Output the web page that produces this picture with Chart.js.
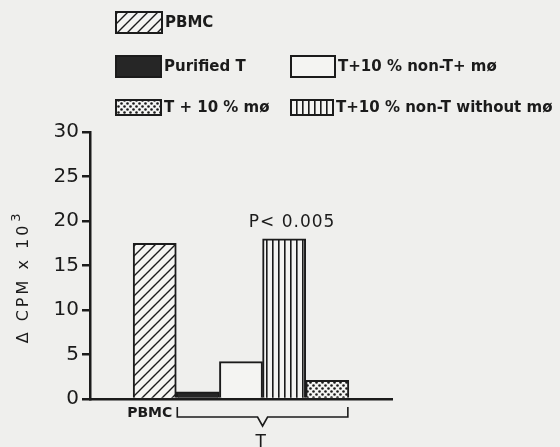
<!DOCTYPE html>
<html><head><meta charset="utf-8">
<script src="https://cdn.jsdelivr.net/npm/chart.js@4"></script>
<style>html,body{margin:0;padding:0;background:#efefed;}#wrap{width:560px;height:447px;position:relative;}</style>
</head><body><div id="wrap"><canvas id="c" width="560" height="447"></canvas></div>
<script>
const categories = ['', 'PBMC', 'Purified T', 'T+10 % non-T+ mø', 'T+10 % non-T without mø', 'T + 10 % mø', ''];
const values = [null, 17.5, 0.8, 4.2, 18.0, 2.1, null];
const yTicks = [0, 5, 10, 15, 20, 25, 30];
const yTitle = 'Δ CPM x 10';
const yTitleSup = '3';
const pLabel = 'P< 0.005';
const groupLabel = 'T';
const pbmcLabel = 'PBMC';
const legendItems = [
  {label: 'PBMC', idx: 1},
  {label: 'Purified T', idx: 2},
  {label: 'T+10 % non-T+ mø', idx: 3},
  {label: 'T + 10 % mø', idx: 5},
  {label: 'T+10 % non-T without mø', idx: 4}
];
const INK = '#1b1b1b';
const PAPER = '#f4f4f2';

function mk(w, h, draw) {
  const c = document.createElement('canvas'); c.width = w; c.height = h;
  const g = c.getContext('2d'); draw(g, w, h); return c;
}
const diag = mk(10, 10, (g, w, h) => {
  g.fillStyle = PAPER; g.fillRect(0, 0, w, h);
  g.strokeStyle = INK; g.lineWidth = 1.4;
  g.beginPath();
  g.moveTo(-2, 12); g.lineTo(12, -2);
  g.moveTo(-7, 7); g.lineTo(7, -7);
  g.moveTo(3, 17); g.lineTo(17, 3);
  g.stroke();
});
const vert = mk(6, 6, (g, w, h) => {
  g.fillStyle = PAPER; g.fillRect(0, 0, w, h);
  g.fillStyle = INK; g.fillRect(2, 0, 1.6, h);
});
const dots = mk(6, 6, (g, w, h) => {
  g.fillStyle = PAPER; g.fillRect(0, 0, w, h);
  g.fillStyle = INK;
  g.beginPath(); g.arc(1.5, 1.5, 1.3, 0, Math.PI * 2); g.fill();
  g.beginPath(); g.arc(4.5, 4.5, 1.3, 0, Math.PI * 2); g.fill();
});
const ctx0 = document.getElementById('c').getContext('2d');
const fills = [PAPER, ctx0.createPattern(diag, 'repeat'), '#262626', PAPER, ctx0.createPattern(vert, 'repeat'), ctx0.createPattern(dots, 'repeat'), PAPER];

const FONT = '"DejaVu Sans", sans-serif';

const decor = {
  id: 'decor',
  afterDraw(chart) {
    const g = chart.ctx;
    const meta = chart.getDatasetMeta(0);
    const bars = meta.data;
    g.save();
    g.fillStyle = INK; g.strokeStyle = INK;
    // y title with superscript
    g.save();
    g.translate(24, 283);
    g.rotate(-Math.PI / 2);
    g.font = '16px ' + FONT;
    g.letterSpacing = '3px';
    g.textAlign = 'center'; g.textBaseline = 'middle';
    g.fillText(yTitle, 0, 0);
    const w = g.measureText(yTitle).width;
    g.font = '13px ' + FONT;
    g.textAlign = 'left';
    g.fillText(yTitleSup, w / 2 + 1, -7);
    g.restore();
    // P label above stripes bar
    const b4 = bars[4];
    g.font = '17px ' + FONT;
    g.letterSpacing = '1px';
    g.textAlign = 'center'; g.textBaseline = 'middle';
    g.fillText(pLabel, b4.x + 8, b4.y - 16);
    g.letterSpacing = '0px';
    // PBMC under bar 1
    const b1 = bars[1];
    g.font = 'bold 14px ' + FONT;
    g.textAlign = 'right';
    g.fillText(pbmcLabel, b1.x + b1.width / 2 - 4, 413);
    // bracket
    const l = bars[2].x - bars[2].width / 2 + 1, r = bars[5].x + bars[5].width / 2 - 1;
    const mid = (l + r) / 2;
    g.lineWidth = 1.6;
    g.beginPath();
    g.moveTo(l, 407); g.lineTo(l, 417); g.lineTo(mid - 5, 417); g.lineTo(mid, 426);
    g.lineTo(mid + 5, 417); g.lineTo(r, 417); g.lineTo(r, 407);
    g.stroke();
    g.font = '17px ' + FONT;
    g.textAlign = 'center';
    g.fillText(groupLabel, mid - 2, 443);
    // legend
    const pos = [
      {x: 116, y: 12, w: 46, h: 21},
      {x: 116, y: 56, w: 45, h: 21},
      {x: 291, y: 56, w: 44, h: 21},
      {x: 116, y: 100, w: 45, h: 15},
      {x: 291, y: 100, w: 42, h: 15}
    ];
    legendItems.forEach((it, i) => {
      const p = pos[i];
      g.fillStyle = fills[it.idx];
      g.fillRect(p.x, p.y, p.w, p.h);
      g.lineWidth = 2; g.strokeStyle = INK;
      g.strokeRect(p.x, p.y, p.w, p.h);
      g.fillStyle = INK;
      g.font = 'bold 15px ' + FONT;
      g.textAlign = 'left'; g.textBaseline = 'middle';
      g.fillText(it.label, p.x + p.w + 3, p.y + p.h / 2 + 1);
    });
    g.restore();
  }
};

new Chart(ctx0, {
  type: 'bar',
  data: {
    labels: categories,
    datasets: [{
      data: values,
      backgroundColor: fills,
      borderColor: INK,
      borderWidth: 2,
      barPercentage: 1,
      categoryPercentage: 1
    }]
  },
  options: {
    responsive: false,
    animation: false,
    layout: {padding: {top: 132, right: 168, bottom: 48, left: 0}},
    plugins: {legend: {display: false}, tooltip: {enabled: false}},
    scales: {
      x: {
        grid: {display: false},
        ticks: {display: false},
        border: {color: INK, width: 2.5},
        afterFit(s) { s.height = 0; }
      },
      y: {
        min: 0, max: 30,
        afterBuildTicks(s) { s.ticks = yTicks.map(v => ({value: v})); },
        grid: {drawOnChartArea: false, drawTicks: true, tickLength: 8, color: INK, lineWidth: 2.5},
        border: {color: INK, width: 2.5},
        ticks: {color: INK, padding: 3, font: {family: '"DejaVu Sans", sans-serif', size: 20}},
        afterFit(s) { s.width = 90; }
      }
    }
  },
  plugins: [decor]
});
</script></body></html>
